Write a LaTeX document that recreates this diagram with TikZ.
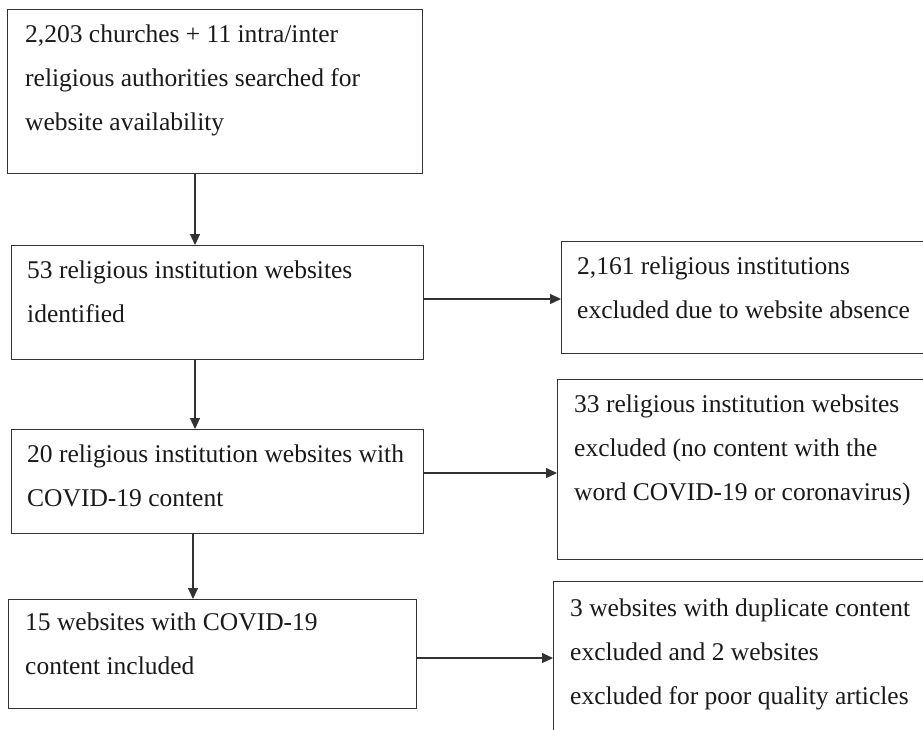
\documentclass[tikz,border=0pt]{standalone}
\usepackage{fontspec}
\setmainfont{Liberation Serif}
\usetikzlibrary{arrows.meta}
\begin{document}
\begin{tikzpicture}[x=1pt,y=-1pt,
  box/.style={draw=black!80,line width=1.3pt,inner sep=0pt,anchor=north west},
  txt/.style={anchor=base west,inner sep=0pt,align=left,font=\fontsize{25.5}{44}\selectfont,text=black!90},
  arr/.style={draw=black!80,line width=1.1pt,-{Triangle[length=11pt,width=10pt]}}]
\useasboundingbox (0,0) rectangle (923,729);
\clip (0,0) rectangle (923,729);
% left column boxes
\node[box,minimum width=415pt,minimum height=164pt] (b1) at (7,9) {};
\node[box,minimum width=412pt,minimum height=114pt] (b2) at (11,245) {};
\node[box,minimum width=412pt,minimum height=104pt] (b3) at (11,429) {};
\node[box,minimum width=408pt,minimum height=109pt] (b4) at (8,599) {};
% right column boxes (cut by the frame)
\node[box,minimum width=400pt,minimum height=112pt] (r1) at (561,241) {};
\node[box,minimum width=400pt,minimum height=180pt] (r2) at (557,379) {};
\node[box,minimum width=400pt,minimum height=200pt] (r3) at (553,581) {};
% texts (anchored at the baseline of their last line)
\node[txt] (t1) at (25,130) {2,203 churches + 11 intra/inter\\religious authorities searched for\\website availability};
\node[txt] (t2) at (27,322) {53 religious institution websites\\identified};
\node[txt] (t3) at (27,506) {20 religious institution websites with\\COVID-19 content};
\node[txt] (t4) at (25,674) {15 websites with COVID-19\\content included};
\node[txt] (u1) at (577,318) {2,161 religious institutions\\excluded due to website absence};
\node[txt] (u2) at (574,500) {33 religious institution websites\\excluded (no content with the\\word COVID-19 or coronavirus)};
\node[txt] (u3) at (570,704) {3 websites with duplicate content\\excluded and 2 websites\\excluded for poor quality articles};
% connectors
\coordinate (xa) at (195,0);
\coordinate (xb) at (193,0);
\coordinate (y1) at (0,299);
\coordinate (y2) at (0,473);
\coordinate (y3) at (0,658);
\draw[arr] (b1.south -| xa) -- (b2.north -| xa);
\draw[arr] (b2.south -| xa) -- (b3.north -| xa);
\draw[arr] (b3.south -| xb) -- (b4.north -| xb);
\draw[arr] (b2.east |- y1) -- (r1.west |- y1);
\draw[arr] (b3.east |- y2) -- (r2.west |- y2);
\draw[arr] (b4.east |- y3) -- (r3.west |- y3);
\end{tikzpicture}
\end{document}
